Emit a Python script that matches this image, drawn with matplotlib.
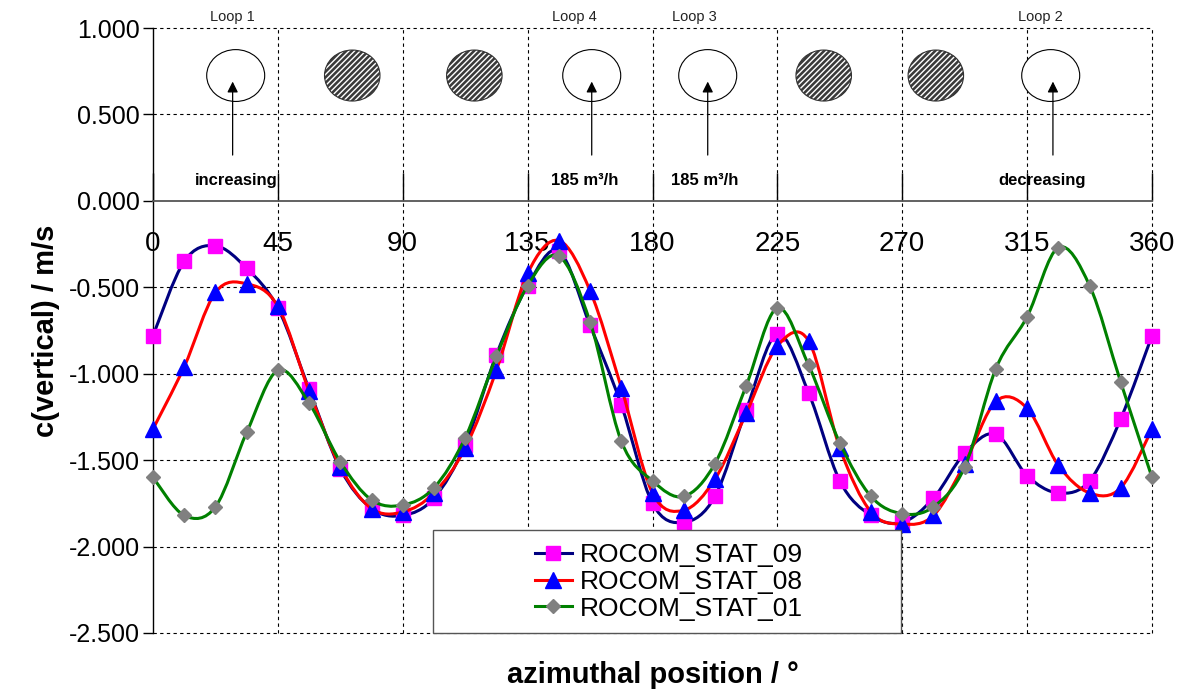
import numpy as np
import matplotlib
matplotlib.use("Agg")
import matplotlib.pyplot as plt
from matplotlib.path import Path
from matplotlib.patches import PathPatch, Ellipse, Rectangle
from matplotlib.lines import Line2D

plt.rcParams["font.family"] = ["Liberation Sans", "DejaVu Sans"]
plt.rcParams["hatch.linewidth"] = 1.0

# azimuthal measuring positions (deg)
azimuth = [i * 11.25 for i in range(33)]

stat_09 = [-0.78, -0.35, -0.26, -0.39, -0.62, -1.09, -1.55, -1.78, -1.82, -1.72,
           -1.41, -0.89, -0.49, -0.29, -0.72, -1.18, -1.75, -1.86, -1.71, -1.21,
           -0.77, -1.11, -1.62, -1.82, -1.86, -1.72, -1.46, -1.35, -1.59, -1.69,
           -1.62, -1.26, -0.78]
stat_08 = [-1.32, -0.96, -0.53, -0.48, -0.61, -1.10, -1.54, -1.78, -1.80, -1.69,
           -1.43, -0.98, -0.42, -0.23, -0.52, -1.08, -1.69, -1.79, -1.61, -1.23,
           -0.84, -0.81, -1.43, -1.80, -1.87, -1.82, -1.52, -1.16, -1.20, -1.53,
           -1.69, -1.66, -1.32]
stat_01 = [-1.60, -1.82, -1.77, -1.34, -0.98, -1.17, -1.51, -1.73, -1.76, -1.66,
           -1.37, -0.90, -0.49, -0.32, -0.70, -1.39, -1.62, -1.71, -1.52, -1.07,
           -0.62, -0.95, -1.40, -1.71, -1.81, -1.77, -1.54, -0.97, -0.67, -0.27,
           -0.49, -1.05, -1.60]

series_names = ["ROCOM_STAT_09", "ROCOM_STAT_08", "ROCOM_STAT_01"]
line_colors = ["#000080", "#ff0000", "#008000"]
marker_colors = ["#ff00ff", "#0000ff", "#808080"]
marker_shapes = ["s", "^", "D"]
marker_sizes = [10, 11.5, 7.5]

x_ticks = [0, 45, 90, 135, 180, 225, 270, 315, 360]
y_ticks = [-2.5, -2.0, -1.5, -1.0, -0.5, 0.0, 0.5, 1.0]

# inlet nozzles shown above the plot (deg), True = loop in operation
nozzle_pos = [29.8, 71.8, 115.8, 158.1, 199.9, 241.7, 282.1, 323.5]
nozzle_open = [True, False, False, True, True, False, False, True]
loop_names = ["Loop 1", "Loop 4", "Loop 3", "Loop 2"]
loop_pos = [28.7, 152.0, 195.0, 319.6]
flow_texts = ["increasing", "185 m³/h", "185 m³/h", "decreasing"]
flow_pos = [29.9, 155.7, 198.7, 320.3]
arrow_pos = [28.7, 158.1, 199.9, 324.3]


def smooth_path(x, y):
    # cubic bezier through all points (catmull-rom style control points)
    p = np.column_stack([x, y])
    n = len(p)
    verts = [p[0]]
    codes = [Path.MOVETO]
    for i in range(n - 1):
        p0 = p[i - 1] if i > 0 else p[i]
        p3 = p[i + 2] if i + 2 < n else p[i + 1]
        c1 = p[i] + (p[i + 1] - p0) / 6.0
        c2 = p[i + 1] - (p3 - p[i]) / 6.0
        verts += [c1, c2, p[i + 1]]
        codes += [Path.CURVE4] * 3
    return Path(verts, codes)


fig = plt.figure(figsize=(11.86, 6.97), dpi=100)
ax = fig.add_axes([153 / 1186, 1 - 633 / 697, 999 / 1186, 605 / 697])

ax.set_xlim(0, 360)
ax.set_ylim(-2.5, 1.0)

# dotted grid, drawn by hand so the dash pattern is the same everywhere
grid_style = dict(color="black", lw=0.8, linestyle=(0, (3, 3)), zorder=1,
                  clip_on=False)
for xv in x_ticks[1:]:
    ax.axvline(xv, **grid_style)
for yv in y_ticks:
    if yv != 0.0:
        ax.axhline(yv, **grid_style)

handles = []
for k, vals in enumerate([stat_09, stat_08, stat_01]):
    z = 3 + k
    ax.add_patch(PathPatch(smooth_path(azimuth, vals), facecolor="none",
                           edgecolor=line_colors[k], lw=2.2, zorder=z,
                           clip_on=False))
    ax.plot(azimuth, vals, linestyle="none", marker=marker_shapes[k],
            ms=marker_sizes[k], mfc=marker_colors[k], mec=marker_colors[k],
            zorder=z + 0.5, clip_on=False)
    handles.append(Line2D([], [], color=line_colors[k], lw=2.2,
                          marker=marker_shapes[k], ms=marker_sizes[k],
                          mfc=marker_colors[k], mec=marker_colors[k]))

ax.set_xticks(x_ticks)
ax.set_yticks(y_ticks)

for s in ["top", "right"]:
    ax.spines[s].set_visible(False)
ax.spines["left"].set_color("black")
ax.spines["left"].set_linewidth(1.0)
ax.spines["bottom"].set_position(("data", 0))
ax.spines["bottom"].set_color("#555555")
ax.spines["bottom"].set_linewidth(1.3)

ax.yaxis.set_major_formatter(matplotlib.ticker.FormatStrFormatter("%.3f"))
ax.tick_params(axis="y", direction="out", length=7.5, width=1, labelsize=18, pad=2)
ax.tick_params(axis="x", direction="in", length=20, width=1, labelsize=20,
               pad=22, colors="black")

ax.set_xlabel("azimuthal position / °", fontsize=21, fontweight="bold")
ax.set_ylabel("c(vertical) / m/s", fontsize=21, fontweight="bold")
ax.xaxis.set_label_coords(0.5, -0.047)
ax.yaxis.set_label_coords(-0.093, 0.5)

# nozzle sketch
for xp, is_open in zip(nozzle_pos, nozzle_open):
    if is_open:
        ax.add_patch(Ellipse((xp, 0.725), 20.9, 0.30, facecolor="white",
                             edgecolor="black", lw=0.8, zorder=6))
    else:
        ax.add_patch(Ellipse((xp, 0.725), 20.0, 0.295, facecolor="#3a3a3a",
                             edgecolor="white", hatch="//////", lw=0, zorder=6))
        ax.add_patch(Ellipse((xp, 0.725), 20.0, 0.295, facecolor="none",
                             edgecolor="#333333", lw=0.8, zorder=6))

for xp in arrow_pos:
    ax.annotate("", xy=(xp, 0.69), xytext=(xp, 0.265),
                arrowprops=dict(arrowstyle="-|>", color="black", lw=0.9,
                                mutation_scale=16, shrinkA=0, shrinkB=0),
                zorder=7)

for name, xp in zip(loop_names, loop_pos):
    ax.text(xp, 1.065, name, ha="center", va="center", fontsize=10.5,
            color="#222222", clip_on=False)

for txt, xp in zip(flow_texts, flow_pos):
    ax.text(xp, 0.12, txt, ha="center", va="center", fontsize=12,
            fontweight="bold", zorder=7)

# legend box
ax.add_patch(Rectangle((0.2803, 0.0), 0.4685, 0.170, transform=ax.transAxes,
                       facecolor="white", edgecolor="#555555", lw=1.0,
                       zorder=9, clip_on=False))
leg = ax.legend(handles, series_names, loc="center",
                bbox_to_anchor=(0.5165, 0.0843), frameon=False, fontsize=19,
                handlelength=1.4, handletextpad=0.3, labelspacing=0.1,
                borderpad=0)
leg.set_zorder(10)

fig.savefig("out.png", dpi=100)
